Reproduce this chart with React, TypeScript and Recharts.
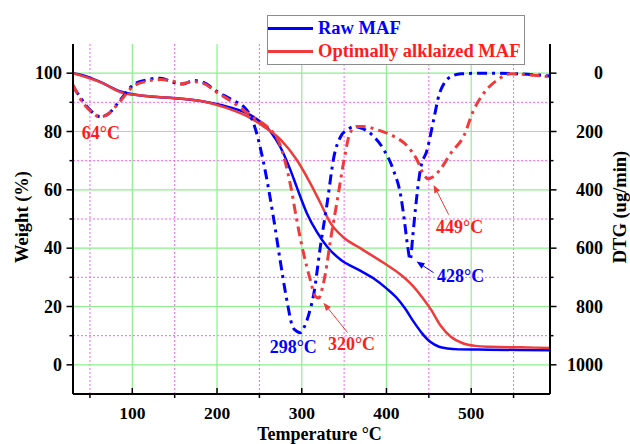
import {
  ComposedChart,
  Line,
  XAxis,
  YAxis,
  CartesianGrid,
  Legend,
  ReferenceLine,
  ReferenceDot,
} from 'recharts'

const serif = '"Liberation Serif", "Times New Roman", serif'
const BLUE = '#0000ff'
const RED = '#ef3b3b'
const RED_TEXT = '#ff1c1c'

// TG: temperature (°C) vs remaining weight (%)
const rawTgTemp = [30, 45, 62, 85, 121, 150, 184, 212, 239, 263, 275, 287, 294, 306, 318, 330, 346, 369, 385, 400, 412, 422, 432, 442, 452, 462, 472, 485, 520, 593]
const rawTgWeight = [100, 99, 97, 93.8, 92, 91.4, 90.3, 88.5, 85.7, 80, 74.5, 66.5, 61, 52, 45.5, 40.5, 36, 32.3, 29.6, 26.2, 23, 19.3, 14.8, 10.8, 7.8, 6.2, 5.6, 5.3, 5.2, 5.0]

const alkTgTemp = [30, 65, 89, 125, 184, 212, 239, 255, 275, 294, 310, 322, 334, 348, 369, 397, 415, 430, 442, 452, 464, 476, 490, 505, 523, 558, 593]
const alkTgWeight = [100, 96.6, 93.2, 92, 90.3, 88, 84.7, 81.7, 77.2, 70.3, 62.3, 55.5, 48.6, 44, 40, 34.9, 31.3, 27.4, 23.2, 19.2, 13.4, 9.6, 7.4, 6.5, 6.2, 6.0, 5.8]

// DTG: temperature (°C) vs mass loss rate (ug/min)
const rawDtgTemp = [30, 38, 50, 62, 70, 86, 101, 117, 133, 149, 160, 172, 184, 200, 216, 235, 243, 255, 267, 275, 283, 289, 294, 298, 303, 309, 314, 322, 330, 338, 346, 354, 362, 372, 385, 397, 408, 417, 421, 425, 428, 431, 434, 440, 448, 456, 462, 468, 476, 488, 520, 560, 593]
const rawDtgRate = [45, 80, 126, 149, 143, 91, 40, 23, 17, 32, 37, 25, 32, 63, 89, 126, 171, 308, 502, 651, 788, 868, 885, 890, 870, 820, 760, 594, 445, 286, 217, 194, 183, 190, 217, 263, 331, 423, 502, 594, 640, 560, 470, 331, 263, 155, 75, 35, 12, 2, 0, 3, 10]

const alkDtgTemp = [30, 38, 50, 62, 70, 86, 101, 117, 133, 149, 157, 172, 184, 200, 216, 231, 247, 259, 275, 287, 294, 302, 310, 316, 320, 324, 328, 334, 342, 350, 357, 365, 373, 389, 409, 425, 436, 444, 449, 455, 464, 476, 491, 503, 515, 531, 547, 570, 593]
const alkDtgRate = [40, 85, 128, 150, 143, 95, 45, 28, 22, 28, 37, 29, 35, 66, 95, 126, 160, 183, 251, 388, 502, 616, 708, 765, 771, 740, 685, 571, 434, 297, 205, 183, 183, 194, 217, 251, 297, 348, 362, 355, 328, 274, 217, 126, 68, 23, 2, 6, 12]

const tempTicks = [50, 100, 150, 200, 250, 300, 350, 400, 450, 500, 550]
const weightTicks = [0, 10, 20, 30, 40, 50, 60, 70, 80, 90, 100]
const dtgTicks = [0, 100, 200, 300, 400, 500, 600, 700, 800, 900, 1000]

const tempMajorGrid = [100, 200, 300, 400, 500]
const tempMinorGrid = [50, 150, 250, 350, 450, 550]
const weightMajorGrid = [0, 20, 40, 60, 80, 100]
const weightMinorGrid = [10, 30, 50, 70, 90]

const legendNames = ['Raw MAF', 'Optimally alklaized MAF']
const legendText: Record<string, string> = { 'Raw MAF': BLUE, 'Optimally alklaized MAF': RED_TEXT }

// peak temperature labels, placed in (°C, weight %) space
const peakLabels = [
  { text: '64°C', color: RED_TEXT, t: 63, w: 79.5 },
  { text: '298°C', color: BLUE, t: 290, w: 6 },
  { text: '320°C', color: RED_TEXT, t: 358.7, w: 7 },
  { text: '428°C', color: BLUE, t: 487.6, w: 30.3 },
  { text: '449°C', color: RED_TEXT, t: 486.4, w: 47.4 },
]

// pointer arrows: tail -> head
const pointers = [
  { color: RED, tail: [354, 11.1], head: [325.6, 21.3] },
  { color: BLUE, tail: [455.6, 31.6], head: [435.5, 35.4] },
  { color: RED, tail: [473.4, 51.5], head: [455.6, 61.7] },
]

const zip = (ts: number[], vs: number[]) => ts.map((t, i) => ({ t, v: vs[i] }))

const rawTg = zip(rawTgTemp, rawTgWeight)
const alkTg = zip(alkTgTemp, alkTgWeight)
const rawDtg = zip(rawDtgTemp, rawDtgRate)
const alkDtg = zip(alkDtgTemp, alkDtgRate)

const labelFont = { fontFamily: serif, fontWeight: 'bold' as const }

function XTick({ x, y, payload }: any) {
  const major = payload.value % 100 === 0
  return (
    <g>
      <line x1={x} y1={y} x2={x} y2={major ? y - 6 : y + 4} stroke="#000" strokeWidth={1.5} />
      {major && (
        <text x={x} y={y + 25} textAnchor="middle" fontSize={17.5} fill="#000" {...labelFont}>
          {payload.value}
        </text>
      )}
    </g>
  )
}

function WeightTick({ x, y, payload }: any) {
  const major = payload.value % 20 === 0
  return (
    <g>
      <line x1={x} y1={y} x2={x - (major ? 6.5 : 3.5)} y2={y} stroke="#000" strokeWidth={1.5} />
      {major && (
        <text x={x - 11} y={y + 6} textAnchor="end" fontSize={18} fill="#000" {...labelFont}>
          {payload.value}
        </text>
      )}
    </g>
  )
}

function DtgTick({ x, y, payload }: any) {
  const major = payload.value % 200 === 0
  return (
    <g>
      <line x1={x} y1={y} x2={x + (major ? 6.5 : 3.5)} y2={y} stroke="#000" strokeWidth={1.5} />
      {major && (
        <text x={x + 53} y={y + 6} textAnchor="end" fontSize={18} fill="#000" {...labelFont}>
          {payload.value}
        </text>
      )}
    </g>
  )
}

function LegendBox({ payload }: any) {
  const items = legendNames
    .map((n) => (payload || []).find((e: any) => e.value === n))
    .filter(Boolean)
  return (
    <div
      style={{
        boxSizing: 'border-box',
        width: 258,
        height: 50,
        border: '1px solid #8c8c8c',
        background: '#fff',
        paddingTop: 1,
        ...labelFont,
        fontSize: 18.5,
      }}
    >
      {items.map((e: any) => (
        <div key={e.value} style={{ display: 'flex', alignItems: 'center', height: 23, whiteSpace: 'nowrap' }}>
          <span style={{ display: 'inline-block', width: 45, height: 3, background: e.color, marginRight: 5 }} />
          <span style={{ color: legendText[e.value], lineHeight: '23px' }}>{e.value}</span>
        </div>
      ))}
    </div>
  )
}

function Arrow({ x1, y1, x2, y2, stroke }: any) {
  // (x1, y1) is the head
  const a = Math.atan2(y1 - y2, x1 - x2)
  const len = 8
  const hw = 3.2
  const bx = x1 - len * Math.cos(a)
  const by = y1 - len * Math.sin(a)
  const px = -Math.sin(a) * hw
  const py = Math.cos(a) * hw
  return (
    <g>
      <line x1={x2} y1={y2} x2={bx} y2={by} stroke={stroke} strokeWidth={1} />
      <polygon points={`${x1},${y1} ${bx + px},${by + py} ${bx - px},${by - py}`} fill={stroke} />
    </g>
  )
}

export default function App() {
  return (
    <div style={{ position: 'absolute', left: 0, top: 0, background: '#fff' }}>
      <ComposedChart width={630} height={444} margin={{ top: 44, right: 0, bottom: 0, left: 0 }}>
        <CartesianGrid
          yAxisId="w"
          verticalValues={tempMinorGrid}
          horizontalValues={weightMinorGrid}
          stroke="#ff5cff"
          strokeDasharray="2 2"
          strokeWidth={1}
        />
        <CartesianGrid
          yAxisId="w"
          verticalValues={tempMajorGrid}
          horizontalValues={weightMajorGrid}
          stroke="#8cf08c"
          strokeWidth={1.2}
        />
        <XAxis
          type="number"
          dataKey="t"
          domain={[30, 593]}
          ticks={tempTicks}
          interval={0}
          allowDataOverflow
          height={50}
          tickSize={0}
          tickMargin={0}
          tickLine={false}
          tick={<XTick />}
          axisLine={{ stroke: '#000', strokeWidth: 2 }}
          label={({ viewBox }: any) => (
            <text x={viewBox.x + viewBox.width / 2 + 8} y={viewBox.y + 46} textAnchor="middle" fontSize={18} fill="#000" {...labelFont}>
              Temperature °C
            </text>
          )}
        />
        <YAxis
          yAxisId="w"
          orientation="left"
          domain={[-10, 110]}
          ticks={weightTicks}
          interval={0}
          allowDataOverflow
          width={73}
          tickSize={0}
          tickMargin={0}
          tickLine={false}
          tick={<WeightTick />}
          axisLine={{ stroke: '#000', strokeWidth: 2 }}
          label={({ viewBox }: any) => {
            const cx = viewBox.x + 22
            const cy = viewBox.y + 173
            return (
              <text x={cx} y={cy} transform={`rotate(-90, ${cx}, ${cy})`} textAnchor="middle" dominantBaseline="central" fontSize={18.5} fill="#000" {...labelFont}>
                Weight (%)
              </text>
            )
          }}
        />
        <YAxis
          yAxisId="d"
          orientation="right"
          domain={[-100, 1100]}
          reversed
          ticks={dtgTicks}
          interval={0}
          allowDataOverflow
          width={80}
          tickSize={0}
          tickMargin={0}
          tickLine={false}
          tick={<DtgTick />}
          axisLine={{ stroke: '#000', strokeWidth: 2 }}
          label={({ viewBox }: any) => {
            const cx = viewBox.x + 70
            const cy = viewBox.y + 163
            return (
              <text x={cx} y={cy} transform={`rotate(-90, ${cx}, ${cy})`} textAnchor="middle" dominantBaseline="central" fontSize={18.5} fill="#000" {...labelFont}>
                DTG (ug/min)
              </text>
            )
          }}
        />
        <Legend
          layout="vertical"
          align="center"
          verticalAlign="middle"
          content={<LegendBox />}
          wrapperStyle={{ left: 267, top: 15, width: 258, height: 50 }}
        />
        <Line data={rawTg} dataKey="v" yAxisId="w" name="Raw MAF" type="monotone" stroke={BLUE} strokeWidth={2.5} dot={false} activeDot={false} isAnimationActive={false} />
        <Line data={alkTg} dataKey="v" yAxisId="w" name="Optimally alklaized MAF" type="monotone" stroke={RED} strokeWidth={2.5} dot={false} activeDot={false} isAnimationActive={false} />
        <Line data={rawDtg} dataKey="v" yAxisId="d" name="Raw MAF DTG" legendType="none" type="monotone" stroke={BLUE} strokeWidth={3} strokeDasharray="10 5 3 5" dot={false} activeDot={false} isAnimationActive={false} />
        <Line data={alkDtg} dataKey="v" yAxisId="d" name="Optimally alklaized MAF DTG" legendType="none" type="monotone" stroke={RED} strokeWidth={3} strokeDasharray="10 5 3 5" dot={false} activeDot={false} isAnimationActive={false} />
        {pointers.map((p, i) => (
          <ReferenceLine
            key={`arrow-${i}`}
            yAxisId="w"
            segment={[
              { x: p.head[0], y: p.head[1] },
              { x: p.tail[0], y: p.tail[1] },
            ]}
            stroke={p.color}
            shape={(props: any) => <Arrow {...props} stroke={p.color} />}
          />
        ))}
        {peakLabels.map((l) => (
          <ReferenceDot
            key={l.text}
            yAxisId="w"
            x={l.t}
            y={l.w}
            r={0}
            shape={(props: any) => (
              <text x={props.cx} y={props.cy} textAnchor="middle" dominantBaseline="central" fontSize={18} fill={l.color} {...labelFont}>
                {l.text}
              </text>
            )}
          />
        ))}
      </ComposedChart>
    </div>
  )
}
